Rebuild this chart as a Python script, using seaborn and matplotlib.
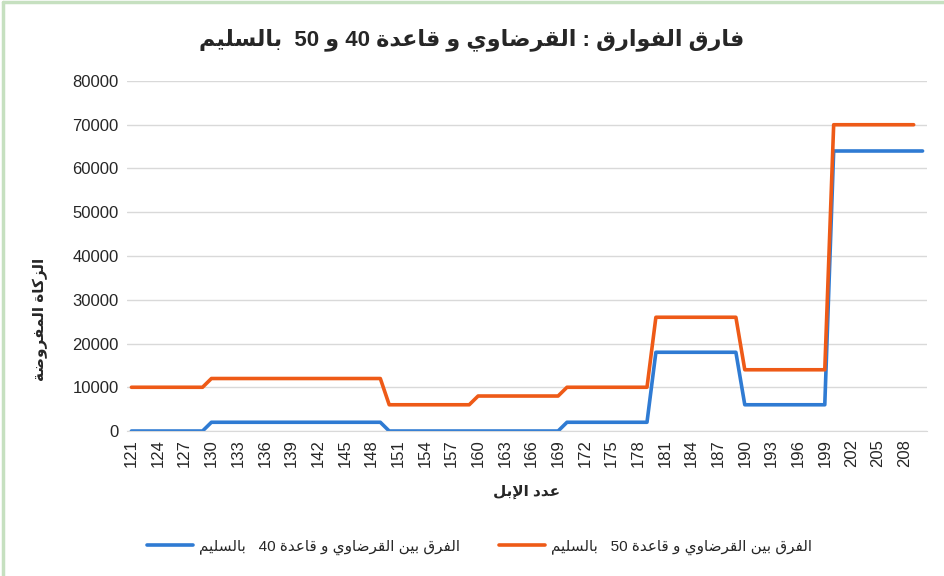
import re
import matplotlib
matplotlib.use("Agg")
import matplotlib.pyplot as plt
from matplotlib.lines import Line2D
import seaborn as sns
import numpy as np

# ---- data ----
camels = list(range(121, 211))
diff_40 = [
    0, 0, 0, 0, 0, 0, 0, 0, 0,
    2000, 2000, 2000, 2000, 2000, 2000, 2000, 2000, 2000, 2000,
    2000, 2000, 2000, 2000, 2000, 2000, 2000, 2000, 2000, 2000,
    0, 0, 0, 0, 0, 0, 0, 0, 0, 0,
    0, 0, 0, 0, 0, 0, 0, 0, 0, 0,
    2000, 2000, 2000, 2000, 2000, 2000, 2000, 2000, 2000, 2000,
    18000, 18000, 18000, 18000, 18000, 18000, 18000, 18000, 18000, 18000,
    6000, 6000, 6000, 6000, 6000, 6000, 6000, 6000, 6000, 6000,
    64000, 64000, 64000, 64000, 64000, 64000, 64000, 64000, 64000, 64000, 64000,
]
diff_50 = [
    10000, 10000, 10000, 10000, 10000, 10000, 10000, 10000, 10000,
    12000, 12000, 12000, 12000, 12000, 12000, 12000, 12000, 12000, 12000,
    12000, 12000, 12000, 12000, 12000, 12000, 12000, 12000, 12000, 12000,
    6000, 6000, 6000, 6000, 6000, 6000, 6000, 6000, 6000, 6000,
    8000, 8000, 8000, 8000, 8000, 8000, 8000, 8000, 8000, 8000,
    10000, 10000, 10000, 10000, 10000, 10000, 10000, 10000, 10000, 10000,
    26000, 26000, 26000, 26000, 26000, 26000, 26000, 26000, 26000, 26000,
    14000, 14000, 14000, 14000, 14000, 14000, 14000, 14000, 14000, 14000,
    70000, 70000, 70000, 70000, 70000, 70000, 70000, 70000, 70000, 70000, np.nan,
]
yticks = [0, 10000, 20000, 30000, 40000, 50000, 60000, 70000, 80000]

title = "فارق الفوارق : القرضاوي و قاعدة 40 و 50  بالسليم"
ylabel = "الزكاة المفروضة"
xlabel = "عدد الإبل"
label_40 = "الفرق بين القرضاوي و قاعدة 40   بالسليم"
label_50 = "الفرق بين القرضاوي و قاعدة 50   بالسليم"


# ---- minimal arabic shaping (matplotlib has no shaping / bidi) ----
FORMS = {  # isolated, final, initial, medial
    "ا": ("\uFE8D", "\uFE8E", None, None),
    "إ": ("\uFE87", "\uFE88", None, None),
    "ب": ("\uFE8F", "\uFE90", "\uFE91", "\uFE92"),
    "ة": ("\uFE93", "\uFE94", None, None),
    "د": ("\uFEA9", "\uFEAA", None, None),
    "ر": ("\uFEAD", "\uFEAE", None, None),
    "ز": ("\uFEAF", "\uFEB0", None, None),
    "س": ("\uFEB1", "\uFEB2", "\uFEB3", "\uFEB4"),
    "ض": ("\uFEBD", "\uFEBE", "\uFEBF", "\uFEC0"),
    "ع": ("\uFEC9", "\uFECA", "\uFECB", "\uFECC"),
    "ف": ("\uFED1", "\uFED2", "\uFED3", "\uFED4"),
    "ق": ("\uFED5", "\uFED6", "\uFED7", "\uFED8"),
    "ك": ("\uFED9", "\uFEDA", "\uFEDB", "\uFEDC"),
    "ل": ("\uFEDD", "\uFEDE", "\uFEDF", "\uFEE0"),
    "م": ("\uFEE1", "\uFEE2", "\uFEE3", "\uFEE4"),
    "ن": ("\uFEE5", "\uFEE6", "\uFEE7", "\uFEE8"),
    "و": ("\uFEED", "\uFEEE", None, None),
    "ي": ("\uFEF1", "\uFEF2", "\uFEF3", "\uFEF4"),
}
LAM_ALEF = {"ا": ("\uFEFB", "\uFEFC"), "إ": ("\uFEF9", "\uFEFA")}


def ar(text):
    out = []
    i = 0
    n = len(text)
    while i < n:
        c = text[i]
        if c not in FORMS:
            out.append(c)
            i += 1
            continue
        prev = text[i - 1] if i > 0 else ""
        joins_prev = prev in FORMS and FORMS[prev][2] is not None
        if c == "ل" and i + 1 < n and text[i + 1] in LAM_ALEF:
            out.append(LAM_ALEF[text[i + 1]][1 if joins_prev else 0])
            i += 2
            continue
        nxt = text[i + 1] if i + 1 < n else ""
        joins_next = FORMS[c][2] is not None and nxt in FORMS
        iso, fin, ini, med = FORMS[c]
        if joins_prev and joins_next:
            out.append(med)
        elif joins_prev:
            out.append(fin)
        elif joins_next:
            out.append(ini)
        else:
            out.append(iso)
        i += 1
    s = "".join(out)[::-1]
    return re.sub(r"\d+", lambda m: m.group()[::-1], s)


sns.set_style("white")
plt.rcParams["font.family"] = ["Liberation Sans", "DejaVu Sans"]

fig = plt.figure(figsize=(9.44, 5.76), dpi=100)
ax = fig.add_axes([0.1345, 0.2517, 0.8475, 0.6077])

x = np.arange(len(camels))
sns.lineplot(x=x, y=diff_40, ax=ax, color="#2F7BD3", lw=2.6,
             solid_joinstyle="round", solid_capstyle="round", label=ar(label_40))
sns.lineplot(x=x, y=diff_50, ax=ax, color="#EE5A17", lw=2.6,
             solid_joinstyle="round", solid_capstyle="round", label=ar(label_50))
ax.get_legend().remove()

ax.set_xlim(-0.5, len(camels) - 0.5)
ax.set_ylim(0, 80000)
ax.set_yticks(yticks)
ax.set_yticklabels([str(v) for v in yticks], fontsize=12)
ax.set_xticks(x[::3])
ax.set_xticklabels([str(c) for c in camels[::3]], rotation=90, fontsize=12)
ax.tick_params(axis="both", length=0, pad=6)
ax.grid(axis="y", color="#d9d9d9", lw=1)
ax.set_axisbelow(True)
for side in ["top", "right", "left"]:
    ax.spines[side].set_visible(False)
ax.spines["bottom"].set_color("#d9d9d9")

fig.text(0.5, 0.932, ar(title), ha="center", va="center", fontsize=16,
         fontweight="bold")
fig.text(0.043, 0.445, ar(ylabel), ha="center", va="center", rotation=90,
         fontsize=11, fontweight="bold")
fig.text(0.558, 0.146, ar(xlabel), ha="center", va="center", fontsize=11,
         fontweight="bold")

handles, labels = ax.get_legend_handles_labels()
fig.legend(handles, labels, loc="center", bbox_to_anchor=(0.508, 0.05), ncol=2,
           frameon=False, fontsize=11, handlelength=3, handletextpad=0.4,
           columnspacing=2.6)

# light green frame on the top and left edges
fig.add_artist(Line2D([0.003, 0.003], [0, 0.997], color="#c6e0c0", lw=2.5,
                      transform=fig.transFigure))
fig.add_artist(Line2D([0.003, 1], [0.997, 0.997], color="#c6e0c0", lw=2.5,
                      transform=fig.transFigure))

fig.savefig("out.png", dpi=100)
